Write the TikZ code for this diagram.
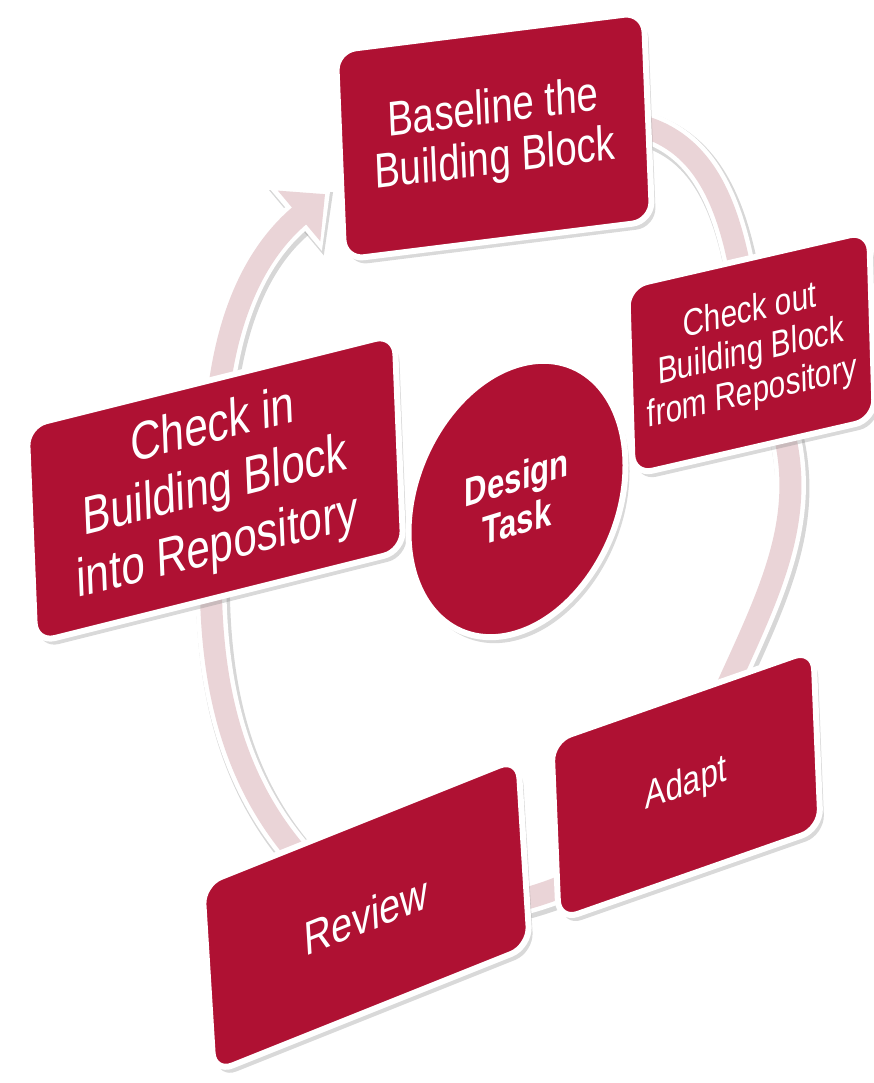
\documentclass[tikz,border=0pt]{standalone}
\usepackage{fontspec}
\newfontfamily\boxfont{Liberation Sans}[FakeStretch=0.78]
\usetikzlibrary{arrows.meta, shapes.geometric, shadows, backgrounds}
\definecolor{blockred}{HTML}{AF1133}
\definecolor{ringpink}{HTML}{EAD4D7}

\begin{document}
\begin{tikzpicture}[x=1pt, y=1pt,
  block/.style={rectangle, rounded corners=20pt, draw=white, line width=6pt, fill=blockred, text=white, align=center, inner sep=0pt,
    drop shadow={shadow xshift=4pt, shadow yshift=-6pt, opacity=.3}},
  ringshade/.style={draw=black!45, opacity=.35, line width=34pt, transform canvas={shift={(2pt,-3pt)}}},
  ringout/.style={draw=white, line width=31pt},
  ringin/.style={draw=ringpink, line width=22pt},
]
\useasboundingbox (0,0) rectangle (873,1083);

% the five steps and the task in the middle
\node[block, yslant=.125, xslant=-.04, minimum width=308pt, minimum height=210pt, font=\boxfont\fontsize{49}{51}\selectfont] (base) at (494,947) {Baseline the\\Building Block};
\node[block, yslant=.23, xslant=-.03, minimum width=242pt, minimum height=190pt, font=\boxfont\fontsize{38}{41}\selectfont] (checkout) at (751,730) {Check out\\Building Block\\from Repository};
\node[block, yslant=.35, xslant=-.04, minimum width=262pt, minimum height=182pt, font=\boxfont\fontsize{40}{42}\selectfont] (adapt) at (686,298) {Adapt};
\node[block, yslant=.40, xslant=-.06, minimum width=316pt, minimum height=193pt, font=\boxfont\fontsize{48}{50}\selectfont] (review) at (366,167.5) {Review};
\node[block, yslant=.25, xslant=-.04, minimum width=368pt, minimum height=219pt, font=\boxfont\fontsize{54}{61}\selectfont] (checkin) at (215,594.5) {Check in\\Building Block\\into Repository};
\node[block, ellipse, yslant=.31, minimum width=217pt, minimum height=268pt, font=\boxfont\bfseries\fontsize{40}{44}\selectfont] (task) at (517,584) {Design\\Task};

% ring behind the steps
\begin{scope}[on background layer]
\draw[ringshade, -{Triangle[length=48pt,width=82pt]}, shorten >=9pt] (checkin.center) to[out=92,in=220] (base.190);
\draw[ringshade] (base.center) to[out=15,in=95,looseness=1.5] (checkout.center);
\draw[ringshade] (checkout.center) to[out=-60,in=70,looseness=1.1] (adapt.center);
\draw[ringshade] (adapt.center) to[out=235,in=0] (review.center);
\draw[ringshade] (review.center) to[out=145,in=-95] (checkin.center);
\draw[ringout, -{Triangle[length=46pt,width=80pt]}, shorten >=10pt] (checkin.center) to[out=92,in=220] (base.190);
\draw[ringout] (base.center) to[out=15,in=95,looseness=1.5] (checkout.center);
\draw[ringout] (checkout.center) to[out=-60,in=70,looseness=1.1] (adapt.center);
\draw[ringout] (adapt.center) to[out=235,in=0] (review.center);
\draw[ringout] (review.center) to[out=145,in=-95] (checkin.center);
\draw[ringin, -{Triangle[length=34pt,width=64pt]}, shorten >=17pt] (checkin.center) to[out=92,in=220] (base.190);
\draw[ringin] (base.center) to[out=15,in=95,looseness=1.5] (checkout.center);
\draw[ringin] (checkout.center) to[out=-60,in=70,looseness=1.1] (adapt.center);
\draw[ringin] (adapt.center) to[out=235,in=0] (review.center);
\draw[ringin] (review.center) to[out=145,in=-95] (checkin.center);
\end{scope}
\end{tikzpicture}
\end{document}
